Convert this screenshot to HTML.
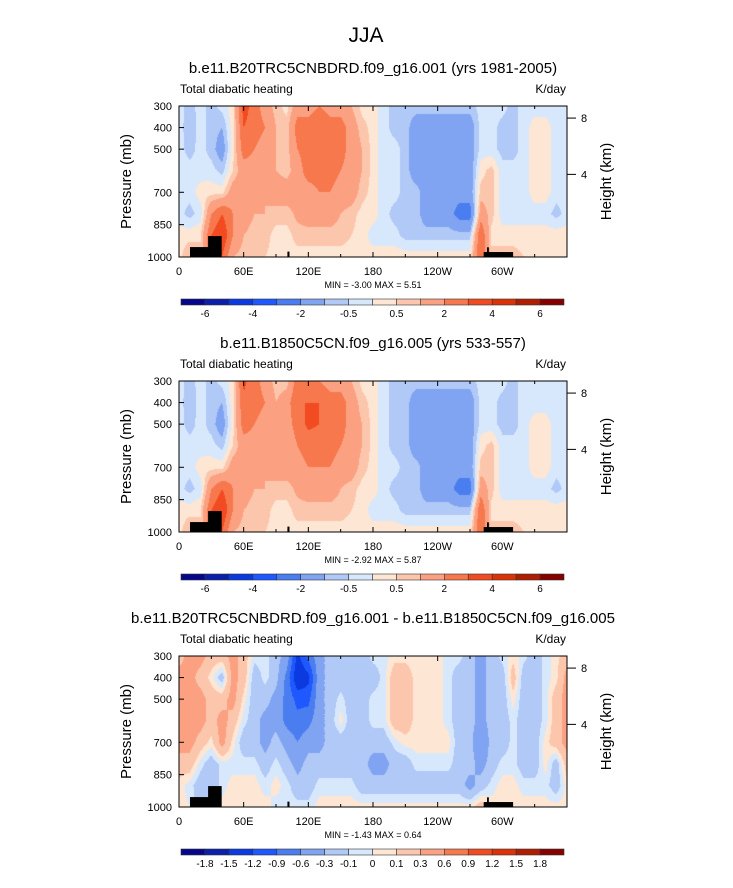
<!DOCTYPE html>
<html><head><meta charset="utf-8">
<style>
html,body{margin:0;padding:0;background:#fff}
#wrap{position:relative;width:733px;height:888px;overflow:hidden;font-family:"Liberation Sans",sans-serif}
canvas{position:absolute;left:0;top:0}
svg{position:absolute;left:0;top:0}
</style></head>
<body>
<div id="wrap">
<canvas id="cv" width="733" height="888"></canvas>
<svg id="sv" width="733" height="888"></svg>
</div>
<script>
// ---- data ----
const lons = [0,10,20,30,40,50,60,70,80,90,100,110,120,130,140,150,160,170,180,190,200,210,220,230,240,250,260,270,280,290,300,310,320,330,340,350,360];
const plevs = [300,400,500,600,700,800,900,1000];
const levelsFull = [-6,-5,-4,-3,-2,-1,-0.5,0,0.5,1,2,3,4,5,6];
const levelsDiff = [-1.8,-1.5,-1.2,-0.9,-0.6,-0.3,-0.1,0,0.1,0.3,0.6,0.9,1.2,1.5,1.8];
const labelsFull = ["-6","-4","-2","-0.5","0.5","2","4","6"];
const labelsFullIdx = [0,2,4,6,8,10,12,14];
const xTickLabels = ["0","60E","120E","180","120W","60W"];
const xTickLons = [0,60,120,180,240,300];
const pTicks = [300,400,500,700,850,1000];
const hTicks = [8,4];
const hTickP = [356,617];
const colors = ["#06068c","#0a20aa","#0a3ae0","#1f58ff","#4a7ef0","#80a4f1","#b1c9f7","#d8e8fc","#fde6d3","#fcc6ad","#fba182","#f8784d","#f24b22","#dc3208","#b01e02","#860000"];
// ground (lon start, lon end, pressure top)
const groundLon0 = [10.2,27,100.6,282.7,285.8];
const groundLon1 = [27.5,39.6,102.5,310,287.5];
const groundTop  = [954,903,975,977,955];

const field1 = [
[-0.3,-0.3,-0.3,-0.3,-0.3,-0.3,0.3,0.3],
[-0.7,-0.8,-0.7,-0.3,-0.3,-0.7,0.3,1],
[-0.3,-0.3,-0.3,-0.3,0.3,-0.3,0.5,0.5],
[-0.7,-0.7,-0.7,-0.3,0.3,2,3,3],
[-0.3,-1,-1.5,-0.7,0.3,3,4,3],
[0.3,0.3,0.3,0.5,1.5,2,2,1],
[3.5,3,2.5,1.5,1.5,1.5,1,0.7],
[2.5,2.5,2,1.5,1.5,1,0.7,0.7],
[1.5,2,1.5,1.5,1,1,0.7,0.5],
[0.7,1,1,1,1.5,0.7,0.3,0.3],
[0.3,0.7,0.7,0.7,1.5,0.7,0.3,0.3],
[1.5,2.5,2,1.5,1.5,1.2,0.7,0.3],
[1.5,2.5,2.5,2.5,1.5,1.5,0.7,0.3],
[2,3,3,2.5,2,1.5,0.7,0.3],
[1.5,2.5,2.5,2.5,2,1.5,0.7,0.3],
[1.5,2.5,2.5,2,1.5,1,0.7,0.3],
[1,1.5,1.5,1.5,1.5,0.7,0.5,0.3],
[0.3,0.7,1,1,0.7,0.3,0.3,0.3],
[0.3,0.3,0.3,0.3,0.3,0.3,-0.3,0.3],
[-0.3,-0.3,-0.3,-0.3,-0.3,-0.3,-0.3,0.3],
[-0.7,-0.7,-0.3,-0.3,-0.3,-0.7,-0.3,0.3],
[-0.7,-0.7,-0.7,-0.7,-0.7,-0.7,-0.7,0.3],
[-0.7,-1.5,-1.5,-1.5,-0.7,-0.7,-0.7,0.3],
[-0.7,-1.5,-1.5,-1.5,-1.5,-1.5,-0.7,0.3],
[-0.7,-1.5,-1.5,-1.5,-1.5,-1.5,-0.7,0.3],
[-0.7,-1.5,-1.5,-1.5,-1.5,-1.5,-0.7,0.3],
[-0.7,-1.5,-1.5,-1.5,-1.5,-2.5,-0.7,0.3],
[-0.7,-1.5,-1.5,-1.5,-1.5,-2.5,-0.7,0.3],
[-0.3,-0.3,-0.3,0.3,0.7,1.5,3,3],
[-0.3,-0.3,-0.3,0.7,0.7,0.7,0.3,0.7],
[-0.3,-0.7,-0.7,-0.3,-0.3,-0.3,0.3,0.7],
[-0.7,-0.7,-0.7,-0.3,-0.3,-0.3,0.3,0.7],
[-0.3,-0.3,-0.3,-0.3,-0.3,-0.3,0.3,0.5],
[-0.3,0.3,0.3,0.3,0.3,-0.3,0.3,0.5],
[-0.3,0.3,0.3,0.3,0.3,-0.3,0.3,0.5],
[-0.3,-0.3,-0.3,-0.3,-0.3,-0.7,0.3,0.5],
[-0.3,-0.3,-0.3,-0.3,-0.3,-0.3,0.3,0.3]
];
const field2 = [
[-0.3,-0.3,-0.3,-0.3,-0.3,-0.3,0.3,0.3],
[-0.7,-0.8,-0.7,-0.3,-0.3,-0.7,0.3,1],
[-0.3,-0.3,-0.3,-0.3,0.3,-0.3,0.5,0.5],
[-0.7,-0.7,-0.7,-0.3,0.3,2,3,3],
[-0.3,-1,-1.5,-0.7,0.3,3,4,3],
[0.3,0.3,0.3,0.5,1.5,2,2,1],
[3.2,2.8,2.5,1.5,1.5,1.5,1,0.7],
[2.5,2.5,2,1.5,1.5,1,0.7,0.7],
[1.5,2,1.5,1.5,1,1,0.7,0.5],
[0.7,1,1,1,1.5,0.7,0.3,0.3],
[0.7,1.5,1.5,1.2,1.5,0.7,0.3,0.3],
[2.5,3,2.5,2,1.5,1.2,0.7,0.3],
[2.5,3,3.2,2.5,2,1.5,0.7,0.3],
[2,3,3,2.5,2,1.5,0.7,0.3],
[1.5,2.5,2.5,2.5,2,1.5,0.7,0.3],
[1.5,2.5,2.5,2,1.5,1,0.7,0.3],
[1,1.5,1.5,1.5,1.5,0.7,0.5,0.3],
[0.3,0.7,1,1,0.7,0.3,0.3,0.3],
[0.3,0.3,0.3,0.3,0.3,0.3,-0.3,0.3],
[-0.3,-0.3,-0.3,-0.3,-0.3,-0.3,-0.3,0.3],
[-0.7,-0.7,-0.7,-0.7,-0.3,-0.7,-0.3,0.3],
[-0.7,-0.7,-0.7,-0.7,-0.7,-0.7,-0.7,0.3],
[-0.7,-1.5,-1.5,-1.5,-0.7,-0.7,-0.7,0.3],
[-0.7,-1.5,-1.5,-1.5,-1.5,-1.5,-0.7,0.3],
[-0.7,-1.5,-1.5,-1.5,-1.5,-1.5,-0.7,0.3],
[-0.7,-1.5,-1.5,-1.5,-1.5,-1.5,-0.7,0.3],
[-0.7,-1.5,-1.5,-1.5,-1.5,-2.5,-0.7,0.3],
[-0.7,-1.5,-1.5,-1.5,-1.5,-2.5,-0.7,0.3],
[-0.3,-0.3,-0.3,0.3,0.7,1.5,3,3],
[-0.3,-0.3,-0.3,0.7,0.7,0.7,0.3,0.7],
[-0.3,-0.7,-0.7,-0.3,-0.3,-0.3,0.3,0.7],
[-0.7,-0.7,-0.7,-0.3,-0.3,-0.3,0.3,0.7],
[-0.3,-0.3,-0.3,-0.3,-0.3,-0.3,0.3,0.5],
[-0.3,-0.3,0.3,0.3,0.3,-0.3,0.3,0.5],
[-0.3,-0.3,0.3,0.3,0.3,-0.3,0.3,0.5],
[-0.3,-0.3,-0.3,-0.3,-0.3,-0.7,0.3,0.5],
[-0.3,-0.3,-0.3,-0.3,-0.3,-0.3,0.3,0.3]
];
const field3 = [
[0.2,0.4,0.4,0.4,0.4,0.2,0.05,0.05],
[0.4,0.4,0.4,0.4,0.4,0.2,-0.05,0],
[0.4,0.2,0.4,0.4,0.2,-0.05,-0.2,-0.2],
[0.2,0.05,0.2,0.2,0.05,-0.2,-0.2,-0.2],
[0.2,-0.2,0.2,0.4,0.4,-0.05,-0.05,0.05],
[0.4,0.4,0.4,0.2,0.05,-0.05,0.05,0.05],
[0.2,0.2,0.05,-0.05,-0.2,-0.05,0.05,0.05],
[-0.05,-0.2,-0.2,-0.2,-0.2,-0.05,0.05,0.05],
[-0.05,-0.05,-0.2,-0.4,-0.4,-0.2,-0.05,0.05],
[-0.2,-0.2,-0.4,-0.4,-0.2,-0.05,0.05,-0.05],
[-0.4,-0.7,-0.7,-0.7,-0.4,-0.2,-0.05,-0.05],
[-1.3,-1.5,-1.0,-0.8,-0.6,-0.4,-0.2,-0.05],
[-0.8,-1.3,-1.0,-0.7,-0.4,-0.2,-0.2,-0.05],
[-0.4,-0.4,-0.4,-0.4,-0.4,-0.2,-0.05,0.05],
[-0.2,-0.2,-0.2,-0.2,-0.2,-0.2,-0.05,0.05],
[-0.2,-0.2,-0.05,0.05,-0.2,-0.2,-0.05,0.05],
[-0.2,-0.2,-0.2,-0.2,-0.2,-0.2,-0.05,0.05],
[-0.2,-0.2,-0.2,-0.2,-0.2,-0.2,-0.2,0.05],
[-0.05,-0.2,-0.05,-0.05,-0.2,-0.4,-0.2,0.05],
[-0.05,-0.05,-0.05,-0.05,-0.2,-0.4,-0.2,0.05],
[0.05,0.2,0.2,0.2,-0.05,-0.2,-0.2,0.05],
[0.05,0.2,0.2,0.2,0.05,-0.2,-0.2,0.05],
[0.05,0.05,0.05,0.05,0.05,-0.05,-0.2,0.05],
[0.05,0.05,0.05,0.05,0.05,-0.05,-0.2,0.05],
[0.05,0.05,0.05,0.05,0.05,-0.05,-0.2,0.05],
[-0.05,-0.05,-0.05,-0.05,0.05,-0.05,-0.2,0.05],
[-0.05,-0.2,-0.2,-0.2,-0.2,-0.2,-0.2,0.05],
[-0.2,-0.2,-0.2,-0.2,-0.2,-0.2,-0.4,0.05],
[-0.4,-0.4,-0.4,-0.4,-0.6,-0.4,-0.2,0.2],
[-0.2,-0.2,-0.2,-0.2,-0.2,-0.2,-0.05,0.05],
[-0.05,-0.2,-0.2,-0.2,-0.2,-0.05,0.05,0.05],
[0.05,0.2,0.05,-0.05,-0.05,-0.05,0.05,0.05],
[-0.05,-0.2,-0.2,-0.2,-0.2,-0.2,-0.05,0.05],
[-0.2,-0.2,-0.2,-0.2,-0.2,-0.2,-0.05,0.05],
[-0.05,-0.05,-0.05,-0.05,0.05,0.05,-0.05,0.05],
[0.05,0.05,0.2,0.2,0.2,-0.2,-0.2,0.05],
[0.2,0.4,0.4,0.4,0.4,0.2,0.05,0.05]
];

const panels = [
 {top:106, field:field1, levels:levelsFull, sub:"b.e11.B20TRC5CNBDRD.f09_g16.001 (yrs 1981-2005)", mm:"MIN =  -3.00  MAX =   5.51", cbLabels:labelsFull, cbIdx:labelsFullIdx},
 {top:381, field:field2, levels:levelsFull, sub:"b.e11.B1850C5CN.f09_g16.005 (yrs 533-557)", mm:"MIN =  -2.92  MAX =   5.87", cbLabels:labelsFull, cbIdx:labelsFullIdx},
 {top:656, field:field3, levels:levelsDiff, sub:"b.e11.B20TRC5CNBDRD.f09_g16.001 - b.e11.B1850C5CN.f09_g16.005", mm:"MIN =  -1.43  MAX =   0.64", cbLabels:levelsDiff.map(String), cbIdx:levelsDiff.map((_,i)=>i)}
];

// ---- axes ----
const X0=179, X1=567, PH=151;
const xScale = lon => X0 + lon/360*(X1-X0);
const yScale = (p,top) => top + (p-300)/700*PH;
const lonOf = x => (x-X0)/(X1-X0)*360;
const pOf = (y,top) => 300 + (y-top)/PH*700;

function hex(c){return [parseInt(c.slice(1,3),16),parseInt(c.slice(3,5),16),parseInt(c.slice(5,7),16)];}
const rgb = colors.map(hex);
function sample(field,lon,p){
  let i=Math.min(lons.length-2,Math.max(0,Math.floor(lon/10))); let fx=(lon-lons[i])/10;
  let j=0; while(j<plevs.length-2 && p>plevs[j+1]) j++;
  let fy=(p-plevs[j])/(plevs[j+1]-plevs[j]); fy=Math.max(0,Math.min(1,fy)); fx=Math.max(0,Math.min(1,fx));
  const a=field[i][j],b=field[i+1][j],c=field[i][j+1],d=field[i+1][j+1];
  return a*(1-fx)*(1-fy)+b*fx*(1-fy)+c*(1-fx)*fy+d*fx*fy;
}
function colorIdx(v,levels){let k=0; while(k<levels.length && v>=levels[k]) k++; return k;}

const cv=document.getElementById('cv'); const ctx=cv.getContext('2d');
const img=ctx.createImageData(733,888);
for(let i=0;i<img.data.length;i+=4){img.data[i]=255;img.data[i+1]=255;img.data[i+2]=255;img.data[i+3]=255;}
panels.forEach(P=>{
  for(let y=P.top;y<P.top+PH;y++){
    const p=pOf(y+0.5,P.top);
    for(let x=X0;x<X1;x++){
      const v=sample(P.field,lonOf(x+0.5),p);
      const c=rgb[colorIdx(v,P.levels)];
      const o=(y*733+x)*4; img.data[o]=c[0];img.data[o+1]=c[1];img.data[o+2]=c[2];
    }
  }
});
ctx.putImageData(img,0,0);

const NS="http://www.w3.org/2000/svg";
const sv=document.getElementById('sv');
function el(tag,attrs,parent){const e=document.createElementNS(NS,tag);for(const k in attrs)e.setAttribute(k,attrs[k]);(parent||sv).appendChild(e);return e;}
function txt(s,attrs,parent){const e=el('text',attrs,parent);e.textContent=s;return e;}

const t=txt("JJA",{x:366,y:42,'text-anchor':'middle','font-size':21,fill:'#000'});



panels.forEach((P,pi)=>{
  const g=el('g',{});
  
  
  const top=P.top, bot=top+PH;
  // ground
  groundLon0.forEach((l0,k)=>{
    const r=el('rect',{x:xScale(l0),y:yScale(groundTop[k],top),width:xScale(groundLon1[k])-xScale(l0),height:bot-yScale(groundTop[k],top),fill:'#000'},g);
    
    
  });
  const fr=el('rect',{x:X0,y:top,width:X1-X0,height:PH,fill:'none',stroke:'#000','stroke-width':1},g);
  
  
  const s=txt(P.sub,{x:373,y:top-33,'text-anchor':'middle','font-size':15},g);
  
  
  const l=txt("Total diabatic heating",{x:180,y:top-13,'font-size':12},g);
  
  
  const u=txt("K/day",{x:566,y:top-13,'text-anchor':'end','font-size':12},g);
  
  
  // x ticks
  for(let lon=0;lon<=360;lon+=30){
    const x=xScale(lon), len=(lon%60===0)?5:3;
    el('line',{x1:x,x2:x,y1:bot,y2:bot-len,stroke:'#000'},g);
    el('line',{x1:x,x2:x,y1:top,y2:top+len,stroke:'#000'},g);
  }
  xTickLabels.forEach((lb,k)=>{
    const tl=txt(lb,{x:xScale(xTickLons[k]),y:bot+18,'text-anchor':'middle','font-size':11},g);
    
    
  });
  pTicks.forEach(p=>{
    const y=yScale(p,top);
    el('line',{x1:X0,x2:X0+5,y1:y,y2:y,stroke:'#000'},g);
    const tl=txt(String(p),{x:172,y:y+4,'text-anchor':'end','font-size':11},g);
    
    
  });
  hTicks.forEach((h,k)=>{
    const y=yScale(hTickP[k],top);
    el('line',{x1:X1,x2:X1+9,y1:y,y2:y,stroke:'#000'},g);
    const tl=txt(String(h),{x:584,y:y+4,'text-anchor':'middle','font-size':11},g);
    
    
  });
  const cy=top+PH/2;
  const ya=txt("Pressure (mb)",{x:131,y:cy,'text-anchor':'middle','font-size':15,transform:`rotate(-90 131 ${cy})`},g);
  
  
  const ha=txt("Height (km)",{x:611,y:cy,'text-anchor':'middle','font-size':15,transform:`rotate(-90 611 ${cy})`},g);
  
  
  const mm=txt(P.mm,{x:373,y:bot+31,'text-anchor':'middle','font-size':9},g);
  
  
  // colorbar
  const cbTop=top+193, cbX0=181, cbW=(564-181)/16;
  colors.forEach((c,k)=>{
    const r=el('rect',{x:cbX0+k*cbW,y:cbTop,width:cbW,height:6,fill:c,stroke:'#333','stroke-width':0.6},g);
    
    
  });
  P.cbLabels.forEach((lb,k)=>{
    const tl=txt(lb,{x:cbX0+(P.cbIdx[k]+1)*cbW,y:cbTop+18,'text-anchor':'middle','font-size':10},g);
    
    
  });
});
</script>
</body></html>
